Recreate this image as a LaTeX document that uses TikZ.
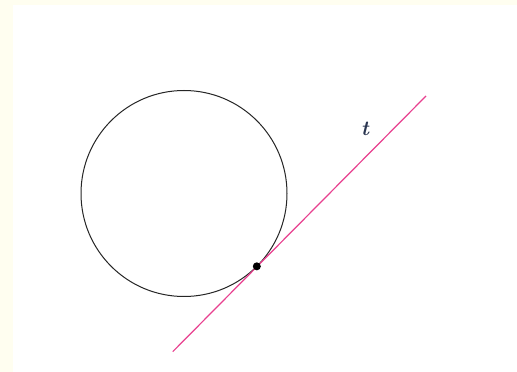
\documentclass[tikz,border=0pt]{standalone}
\usetikzlibrary{calc}
\definecolor{cream}{HTML}{FFFEF0}
\definecolor{tanline}{HTML}{E8408F}
\definecolor{labelc}{HTML}{2A3550}
\begin{document}
\begin{tikzpicture}[x=1pt,y=1pt,
  circ/.style={draw=black!85,line width=1pt},
  tline/.style={draw=tanline,line width=1.2pt},
  dotst/.style={circle,fill=black,inner sep=0pt,minimum size=8pt}]
\useasboundingbox (0,0) rectangle (517,372);
\fill[cream] (0,0) rectangle (517,372);
\fill[white] (13,0) rectangle (517,367);
\coordinate (c) at (184,178.5);
\draw[circ] (c) circle[radius=103];
\coordinate (p1) at (172.7,20.3);
\coordinate (p2) at (426,276);
\draw[tline] (p1) -- (p2);
\node[dotst] (d) at ($(c)+(-45:103)$) {};
\node[text=labelc,font=\fontsize{21}{24}\selectfont\bfseries\itshape] (t) at (365,243) {t};
\end{tikzpicture}
\end{document}
